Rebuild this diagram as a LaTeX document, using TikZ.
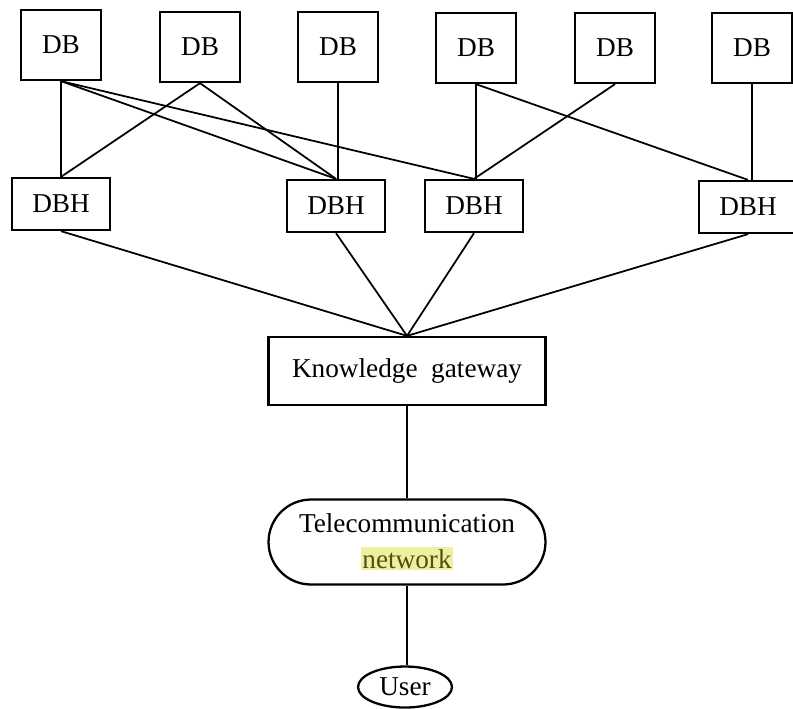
\documentclass[tikz,border=0pt]{standalone}
\usepackage{fontspec}
\setmainfont{Liberation Serif}
\usepackage{xcolor}
\usepackage{tikz}
\usetikzlibrary{shapes.geometric}

\definecolor{hlyellow}{RGB}{238,240,160}
\definecolor{hltext}{RGB}{80,80,20}

\begin{document}
\begin{tikzpicture}[x=0.02cm, y=-0.02cm,
    every node/.style={draw, line width=1.3pt, font=\fontsize{15.5}{18}\selectfont},
    dbbox/.style={minimum width=1.6cm, minimum height=1.4cm},
    dbhbox/.style={minimum width=1.96cm, minimum height=1.04cm},
    gatebox/.style={minimum width=5.54cm, minimum height=1.36cm},
    netbox/.style={minimum width=5.54cm, minimum height=1.7cm, rounded corners=0.85cm, align=center},
    userbox/.style={ellipse, inner sep=0pt, minimum width=1.88cm, minimum height=0.82cm},
    link/.style={line width=1pt}]
  \useasboundingbox (0,0) rectangle (793,708);

  \node[dbbox] (A) at (61,45) {DB};
  \node[dbbox] (B) at (200,47) {DB};
  \node[dbbox] (C) at (338,47) {DB};
  \node[dbbox] (D) at (476,48) {DB};
  \node[dbbox] (E) at (615,48) {DB};
  \node[dbbox] (F) at (752,48) {DB};

  \node[dbhbox] (H1) at (61,204) {DBH};
  \node[dbhbox] (H2) at (336,206) {DBH};
  \node[dbhbox] (H3) at (474,206) {DBH};
  \node[dbhbox] (H4) at (748,207) {DBH};

  \node[gatebox] (G) at (407,371) {Knowledge\ \ gateway};
  \node[netbox] (N) at (407,542) {Telecommunication\\[2pt]\fboxsep=1pt\colorbox{hlyellow}{\textcolor{hltext}{network}}};
  \node[userbox] (U) at (405,687) {User};

  % databases to handlers
  \draw[link] (A.south) -- (H1.north);
  \draw[link] (B.south) -- (H1.north);
  \draw[link] (A.south) -- (H2.north);
  \draw[link] (B.south) -- (H2.north);
  \draw[link] (C.south) -- (C.south |- H2.north);
  \draw[link] (A.south) -- (H3.north);
  \draw[link] (D.south) -- (D.south |- H3.north);
  \draw[link] (E.south) -- (H3.north);
  \draw[link] (D.south) -- (H4.north);
  \draw[link] (F.south) -- (F.south |- H4.north);

  % handlers to gateway
  \draw[link] (H1.south) -- (G.north);
  \draw[link] (H2.south) -- (G.north);
  \draw[link] (H3.south) -- (G.north);
  \draw[link] (H4.south) -- (G.north);

  \draw[link] (G) -- (N);
  \draw[link] (N) -- (N.south |- U.north);
\end{tikzpicture}
\end{document}
